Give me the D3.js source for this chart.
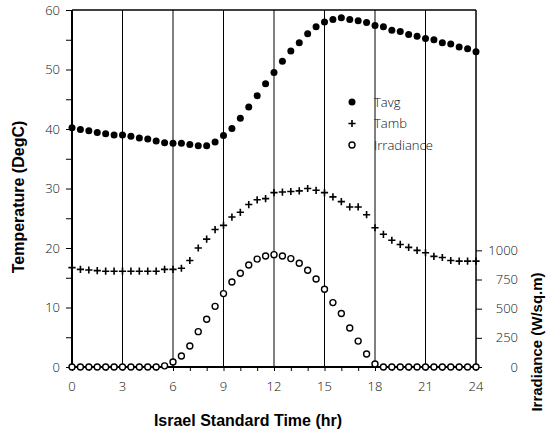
<!DOCTYPE html>
<html>
<head>
<meta charset="utf-8">
<script src="https://cdn.jsdelivr.net/npm/d3@7"></script>
<style>
  body { margin: 0; background: #fff; }
  .tick-label { font-family: "Open Sans", "Liberation Sans", sans-serif; font-weight: 300; font-size: 13px; fill: #111; }
  .title { font-family: "Liberation Sans", Arial, sans-serif; font-weight: bold; font-size: 16px; fill: #000; }
</style>
</head>
<body>
<svg id="chart" width="548" height="432"></svg>
<script>
// hora do dia (h), medições a cada meia hora
const hours = [0, 0.5, 1, 1.5, 2, 2.5, 3, 3.5, 4, 4.5, 5, 5.5, 6, 6.5, 7, 7.5, 8, 8.5, 9, 9.5,
  10, 10.5, 11, 11.5, 12, 12.5, 13, 13.5, 14, 14.5, 15, 15.5, 16, 16.5, 17, 17.5, 18, 18.5, 19, 19.5,
  20, 20.5, 21, 21.5, 22, 22.5, 23, 23.5, 24];

const tavg = [40.2, 39.9, 39.7, 39.4, 39.2, 39.0, 39.0, 38.8, 38.5, 38.3, 38.0, 37.7, 37.6, 37.6, 37.4, 37.2, 37.2, 37.8, 38.9, 40.1,
  41.8, 43.7, 45.6, 47.6, 49.5, 51.4, 53.1, 54.5, 56.0, 57.2, 58.0, 58.4, 58.7, 58.4, 58.2, 57.9, 57.4, 57.2, 56.6, 56.4,
  55.9, 55.6, 55.2, 55.0, 54.5, 54.3, 53.8, 53.5, 53.0];

const tamb = [16.7, 16.4, 16.3, 16.2, 16.1, 16.1, 16.1, 16.1, 16.1, 16.1, 16.1, 16.4, 16.4, 16.6, 17.9, 20.0, 21.5, 23.1, 23.8, 25.2,
  26.0, 27.3, 28.1, 28.3, 29.3, 29.4, 29.5, 29.6, 30.0, 29.7, 29.3, 28.6, 27.8, 26.9, 26.9, 25.6, 23.4, 22.3, 21.3, 20.6,
  20.1, 19.6, 19.2, 18.6, 18.4, 17.9, 17.8, 17.8, 17.8];

const irradiance = [0, 0, 0, 0, 0, 0, 0, 0, 0, 0, 0, 10, 43, 94, 180, 303, 409, 520, 629, 728,
  803, 874, 925, 951, 963, 951, 929, 889, 829, 754, 666, 552, 458, 334, 222, 111, 26, 0, 0, 0,
  0, 0, 0, 0, 0, 0, 0, 0, 0];

const xTicks = [0, 3, 6, 9, 12, 15, 18, 21, 24];
const yTicks = [0, 10, 20, 30, 40, 50, 60];
const yRightTicks = [0, 250, 500, 750, 1000];
const legendItems = ["Tavg", "Tamb", "Irradiance"];

const mLeft = 72, mRight = 476, mTop = 10, mBottom = 367;

const svg = d3.select("#chart");

const x = d3.scaleLinear().domain([0, 24]).range([mLeft, mRight]);
const y = d3.scaleLinear().domain([0, 60]).range([mBottom, mTop]);
const yR = d3.scaleLinear().domain([0, 3060]).range([mBottom, mTop]);

// linhas verticais da grade
svg.append("g")
  .selectAll("line")
  .data(xTicks.slice(1, -1))
  .enter()
  .append("line")
  .attr("x1", d => x(d)).attr("x2", d => x(d))
  .attr("y1", mTop).attr("y2", mBottom)
  .style("stroke", "#000").style("stroke-width", 1);

// eixo x
const xAxis = svg.append("g")
  .attr("transform", `translate(0,${mBottom})`)
  .call(d3.axisBottom(x).tickValues(d3.range(0, 25, 1)).tickSize(4).tickFormat(""));
xAxis.select(".domain").remove();
xAxis.selectAll(".tick line").style("stroke-width", 1);

svg.append("g")
  .selectAll("text")
  .data(xTicks)
  .enter()
  .append("text")
  .attr("class", "tick-label")
  .attr("x", d => x(d))
  .attr("y", mBottom + 24)
  .attr("text-anchor", "middle")
  .text(d => d);

// eixo y esquerdo
const yAxis = svg.append("g")
  .attr("transform", `translate(${mLeft},0)`)
  .call(d3.axisLeft(y).tickValues(d3.range(0, 61, 5)).tickSize(6).tickFormat(""));
yAxis.select(".domain").remove();

svg.append("g")
  .selectAll("text")
  .data(yTicks)
  .enter()
  .append("text")
  .attr("class", "tick-label")
  .attr("x", mLeft - 12)
  .attr("y", d => y(d))
  .attr("dy", "0.35em")
  .attr("text-anchor", "end")
  .text(d => d);

// eixo y direito (irradiância)
const yRAxis = svg.append("g")
  .attr("transform", `translate(${mRight},0)`)
  .call(d3.axisRight(yR).tickValues(yRightTicks).tickSize(6).tickFormat(""));
yRAxis.select(".domain").remove();

svg.append("g")
  .selectAll("text")
  .data(yRightTicks)
  .enter()
  .append("text")
  .attr("class", "tick-label")
  .attr("x", mRight + 42)
  .attr("y", d => yR(d))
  .attr("dy", "0.35em")
  .attr("text-anchor", "end")
  .text(d => d);

// moldura
svg.append("line").attr("x1", mLeft).attr("x2", mRight).attr("y1", mTop).attr("y2", mTop)
  .style("stroke", "#000").style("stroke-width", 1.5);
svg.append("line").attr("x1", mRight).attr("x2", mRight).attr("y1", mTop).attr("y2", mBottom)
  .style("stroke", "#000").style("stroke-width", 1.5);
svg.append("line").attr("x1", mLeft).attr("x2", mLeft).attr("y1", mTop).attr("y2", mBottom)
  .style("stroke", "#000").style("stroke-width", 2);
svg.append("line").attr("x1", mLeft).attr("x2", mRight).attr("y1", mBottom).attr("y2", mBottom)
  .style("stroke", "#000").style("stroke-width", 2);

// marcadores
function plus(g, cx, cy) {
  g.append("path")
    .attr("d", `M${cx - 3.6},${cy}H${cx + 3.6}M${cx},${cy - 3.6}V${cy + 3.6}`)
    .style("stroke", "#000").style("stroke-width", 1.6).style("fill", "none");
}

const pts = svg.append("g");

hours.forEach((h, i) => {
  pts.append("circle")
    .attr("cx", x(h)).attr("cy", yR(irradiance[i])).attr("r", 3)
    .style("fill", "#fff").style("stroke", "#000").style("stroke-width", 1.4);
});

hours.forEach((h, i) => plus(pts, x(h), y(tamb[i])));

hours.forEach((h, i) => {
  pts.append("circle")
    .attr("cx", x(h)).attr("cy", y(tavg[i])).attr("r", 3.5)
    .style("fill", "#000");
});

// legenda
const legend = svg.append("g");
legendItems.forEach((name, i) => {
  const ly = 102 + i * 21.5;
  if (i === 0) {
    legend.append("circle").attr("cx", 352).attr("cy", ly).attr("r", 3.5).style("fill", "#000");
  } else if (i === 1) {
    plus(legend, 352, ly);
  } else {
    legend.append("circle").attr("cx", 352).attr("cy", ly).attr("r", 3)
      .style("fill", "#fff").style("stroke", "#000").style("stroke-width", 1.4);
  }
  legend.append("text")
    .attr("class", "tick-label")
    .attr("x", 374)
    .attr("y", ly)
    .attr("dy", "0.35em")
    .text(name);
});

// títulos dos eixos
svg.append("text")
  .attr("class", "title")
  .attr("x", (mLeft + mRight) / 2 - 26)
  .attr("y", 420)
  .attr("dy", "0.35em")
  .attr("text-anchor", "middle")
  .text("Israel Standard Time (hr)");

svg.append("text")
  .attr("class", "title")
  .attr("transform", `translate(18,197) rotate(-90)`)
  .attr("dy", "0.35em")
  .attr("text-anchor", "middle")
  .text("Temperature (DegC)");

svg.append("text")
  .attr("class", "title")
  .attr("transform", `translate(537,342) rotate(-90)`)
  .attr("dy", "0.35em")
  .attr("text-anchor", "middle")
  .style("font-size", "15px")
  .text("Irradiance (W/sq.m)");

console.log("The End");
</script>
</body>
</html>
